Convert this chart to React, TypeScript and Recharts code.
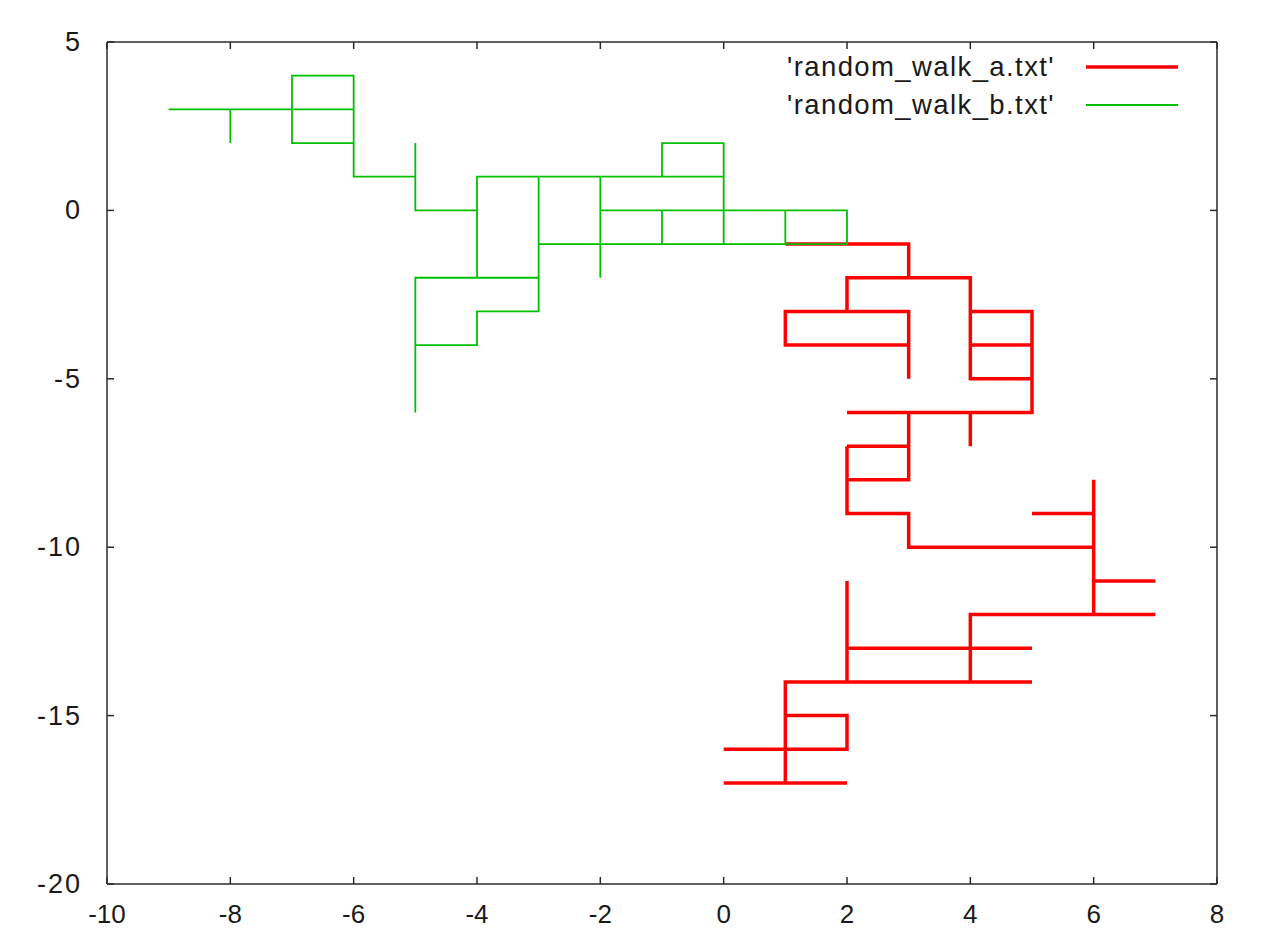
import { LineChart, Line, XAxis, YAxis, Legend } from 'recharts';

// axis ticks
const xTicks = [-10, -8, -6, -4, -2, 0, 2, 4, 6, 8];
const yTicks = [5, 0, -5, -10, -15, -20];

const seriesNames = ["'random_walk_a.txt'", "'random_walk_b.txt'"];

// walk a (unit steps on the lattice)
const walkAX = [
  1, 2, 3, 3, 2, 2, 3, 3, 3, 3, 2, 1, 1, 2, 2, 3, 4, 4, 5, 5, 4, 4, 4, 4, 5, 5, 5, 5, 4, 4,
  4, 3, 2, 3, 3, 2, 3, 3, 2, 2, 2, 2, 3, 3, 4, 5, 6, 6, 6, 6, 5, 6, 6, 6, 7, 6, 6, 7, 6, 5,
  4, 4, 5, 4, 4, 5, 4, 3, 2, 2, 3, 4, 3, 2, 2, 2, 2, 2, 2, 1, 1, 2, 2, 1, 1, 1, 0, 1, 1, 0,
  1, 2,
];
const walkAY = [
  -1, -1, -1, -2, -2, -3, -3, -4, -5, -4, -4, -4, -3, -3, -2, -2, -2, -3, -3, -4, -4, -3, -4, -5, -5, -4, -5, -6, -6, -7,
  -6, -6, -6, -6, -7, -7, -7, -8, -8, -7, -8, -9, -9, -10, -10, -10, -10, -9, -8, -9, -9, -9, -10, -11, -11, -11, -12, -12, -12, -12,
  -12, -13, -13, -13, -14, -14, -14, -14, -14, -13, -13, -13, -13, -13, -12, -11, -12, -13, -14, -14, -15, -15, -16, -16, -15, -16, -16, -16, -17, -17,
  -17, -17,
];

// walk b
const walkBX = [
  -9, -8, -8, -8, -7, -7, -6, -6, -7, -7, -6, -6, -6, -6, -5, -5, -5, -5, -4, -4,
  -3, -2, -1, -1, 0, 0, -1, 0, 0, -1, -2, -2, -2, -2, -2, -2, -1, -1, -1, 0,
  0, 1, 1, 1, 2, 2, 1, 0, -1, -2, -3, -3, -3, -3, -3, -3, -3, -4, -4, -5,
  -5, -5, -5, -5, -5, -5, -4, -3, -4, -4, -4,
];
const walkBY = [
  3, 3, 2, 3, 3, 4, 4, 3, 3, 2, 2, 3, 2, 1, 1, 2, 1, 0, 0, 1,
  1, 1, 1, 2, 2, 1, 1, 1, 0, 0, 0, 1, 0, -1, -2, -1, -1, 0, -1, -1,
  0, 0, -1, 0, 0, -1, -1, -1, -1, -1, -1, 0, 1, 0, -1, -2, -3, -3, -4, -4,
  -5, -6, -5, -4, -3, -2, -2, -2, -2, -1, 0,
];

const toPoints = (xs: number[], ys: number[]) => xs.map((x, i) => ({ x, y: ys[i] }));
const walkA = toPoints(walkAX, walkAY);
const walkB = toPoints(walkBX, walkBY);

const FONT = '"Liberation Sans", Arial, Helvetica, sans-serif';
const FRAME = '#2b2b2b';
const TEXT = '#1a1a1a';
const TICK_LEN = 7;
const RED = '#ff0000';
const GREEN = '#00c000';
const lineWidths: Record<string, number> = { [seriesNames[0]]: 3.5, [seriesNames[1]]: 1.8 };

function BottomTick({ x, y, payload }: any) {
  return (
    <g>
      <line x1={x} x2={x} y1={y} y2={y - TICK_LEN} stroke={FRAME} strokeWidth={1.5} />
      <text x={x} y={y + 39} textAnchor="middle" fontFamily={FONT} fontSize={26} fill={TEXT}>
        {payload.value}
      </text>
    </g>
  );
}

function TopTick({ x, y }: any) {
  return <line x1={x} x2={x} y1={y} y2={y + TICK_LEN} stroke={FRAME} strokeWidth={1.5} />;
}

function LeftTick({ x, y, payload }: any) {
  return (
    <g>
      <line x1={x} x2={x + TICK_LEN} y1={y} y2={y} stroke={FRAME} strokeWidth={1.5} />
      <text x={x - 25} y={y + 9} textAnchor="end" fontFamily={FONT} fontSize={27} fill={TEXT} letterSpacing={2}>
        {payload.value}
      </text>
    </g>
  );
}

function RightTick({ x, y }: any) {
  return <line x1={x} x2={x - TICK_LEN} y1={y} y2={y} stroke={FRAME} strokeWidth={1.5} />;
}

function KeyBox({ payload }: any) {
  return (
    <div style={{ fontFamily: FONT, fontSize: 27.5, color: TEXT }}>
      {(payload || []).map((entry: any) => (
        <div key={entry.value} style={{ display: 'flex', alignItems: 'center', height: 38 }}>
          <span style={{ width: 275, textAlign: 'right', letterSpacing: 1.4, whiteSpace: 'nowrap' }}>{entry.value}</span>
          <svg width={92} height={10} style={{ marginLeft: 31 }}>
            <line x1={0} x2={92} y1={5} y2={5} stroke={entry.color} strokeWidth={lineWidths[entry.value] ?? 2} />
          </svg>
        </div>
      ))}
    </div>
  );
}

export default function App() {
  return (
    <>
      <style>{'body { margin: 8px 8px 0 8px; }'}</style>
      <LineChart
        width={1247}
        height={922}
        margin={{ top: 33, right: 37, bottom: 0, left: 0 }}
        style={{ background: '#ffffff' }}
      >
        <XAxis
          xAxisId="top"
          orientation="top"
          type="number"
          dataKey="x"
          domain={[-10, 8]}
          ticks={xTicks}
          interval={0}
          height={1}
          tickSize={0}
          tickMargin={0}
          tickLine={false}
          tick={<TopTick />}
          axisLine={{ stroke: FRAME, strokeWidth: 1.5 }}
          allowDataOverflow
        />
        <XAxis
          type="number"
          dataKey="x"
          domain={[-10, 8]}
          ticks={xTicks}
          interval={0}
          height={46}
          tickSize={0}
          tickMargin={0}
          tickLine={false}
          tick={<BottomTick />}
          axisLine={{ stroke: FRAME, strokeWidth: 1.5 }}
          allowDataOverflow
        />
        <YAxis
          type="number"
          dataKey="y"
          domain={[-20, 5]}
          ticks={yTicks}
          interval={0}
          width={99}
          tickSize={0}
          tickMargin={0}
          tickLine={false}
          tick={<LeftTick />}
          axisLine={{ stroke: FRAME, strokeWidth: 1.5 }}
          allowDataOverflow
        />
        <YAxis
          yAxisId="right"
          orientation="right"
          type="number"
          dataKey="y"
          domain={[-20, 5]}
          ticks={yTicks}
          interval={0}
          width={1}
          tickSize={0}
          tickMargin={0}
          tickLine={false}
          tick={<RightTick />}
          axisLine={{ stroke: FRAME, strokeWidth: 1.5 }}
          allowDataOverflow
        />
        <Legend
          layout="horizontal"
          verticalAlign="middle"
          align="center"
          wrapperStyle={{ top: 40, left: 772, width: 420 }}
          content={<KeyBox />}
        />
        <Line
          data={walkA}
          dataKey="y"
          name={seriesNames[0]}
          type="linear"
          stroke={RED}
          strokeWidth={lineWidths[seriesNames[0]]}
          dot={false}
          activeDot={false}
          isAnimationActive={false}
        />
        <Line
          data={walkB}
          dataKey="y"
          name={seriesNames[1]}
          type="linear"
          stroke={GREEN}
          strokeWidth={lineWidths[seriesNames[1]]}
          dot={false}
          activeDot={false}
          isAnimationActive={false}
        />
      </LineChart>
    </>
  );
}
